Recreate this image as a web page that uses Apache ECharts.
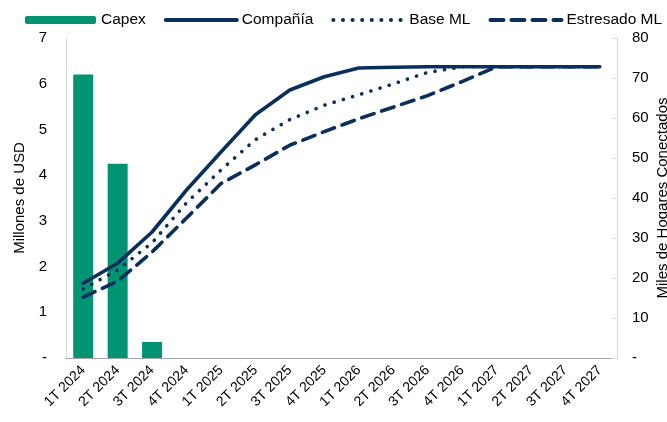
<!DOCTYPE html>
<html>
<head>
<meta charset="utf-8">
<script src="https://cdn.jsdelivr.net/npm/echarts@6/dist/echarts.min.js"></script>
<style>
  html, body { margin: 0; padding: 0; background: #fff; }
  #chart { width: 667px; height: 422px; }
</style>
</head>
<body>
<div id="chart"></div>
<script>
// Trimestres
const categories = ['1T 2024','2T 2024','3T 2024','4T 2024','1T 2025','2T 2025','3T 2025','4T 2025',
  '1T 2026','2T 2026','3T 2026','4T 2026','1T 2027','2T 2027','3T 2027','4T 2027'];

// Capex (millones de USD)
const capex = [6.2, 4.25, 0.35, null, null, null, null, null, null, null, null, null, null, null, null, null];

// Miles de hogares conectados por escenario
const compania   = [18.7, 23.7, 31.5, 42.0, 51.5, 60.8, 67.0, 70.3, 72.5, 72.7, 72.8, 72.8, 72.8, 72.8, 72.8, 72.8];
const baseML     = [17.3, 22.0, 28.8, 38.8, 47.0, 54.6, 59.6, 63.2, 65.8, 68.5, 71.4, 72.8, 72.8, 72.8, 72.8, 72.8];
const estresado  = [15.2, 19.2, 26.5, 35.0, 43.6, 48.3, 53.2, 56.6, 59.8, 62.7, 65.6, 69.1, 72.8, 72.8, 72.8, 72.8];

const GREEN = '#009473';
const NAVY = '#0B2F5C';
const FONT = 'Liberation Sans, Arial, sans-serif';

const chart = echarts.init(document.getElementById('chart'), null, { renderer: 'canvas' });

function lineSeries(name, data, type) {
  return {
    name, type: 'line', yAxisIndex: 1, data,
    symbol: 'none', smooth: false,
    lineStyle: { color: NAVY, width: 3.6, type, cap: 'round', join: 'round' },
    itemStyle: { color: NAVY },
    z: 3
  };
}

chart.setOption({
  animation: false,
  textStyle: { fontFamily: FONT },
  legend: {
    top: 12, left: 25, width: 650, padding: 0,
    itemWidth: 71, itemHeight: 8, itemGap: 18,
    itemStyle: { opacity: 0 },
    lineStyle: { width: 4, cap: 'round' },
    textStyle: { fontSize: 15.5, color: '#000', fontFamily: FONT },
    data: [
      { name: 'Capex', itemStyle: { opacity: 1 } },
      'Compañía', 'Base ML', 'Estresado ML'
    ]
  },
  grid: { left: 66, right: 50, top: 38, bottom: 64, outerBoundsMode: 'none', containLabel: false },
  xAxis: {
    type: 'category', data: categories,
    axisLine: { lineStyle: { color: '#a6a6a6', width: 1 } },
    axisTick: { show: false },
    axisLabel: { rotate: 45, fontSize: 14, color: '#000', fontFamily: FONT, margin: 10, interval: 0 }
  },
  yAxis: [
    {
      type: 'value', min: 0, max: 7, interval: 1,
      name: 'Millones de USD', nameLocation: 'middle', nameRotate: 90, nameGap: 39,
      nameTextStyle: { fontSize: 15, color: '#000', fontFamily: FONT },
      axisLine: { show: true, lineStyle: { color: '#d9d9d9' } },
      axisTick: { show: false },
      splitLine: { show: false },
      axisLabel: { fontSize: 15, color: '#000', fontFamily: FONT, margin: 19,
        formatter: v => v === 0 ? '-' : String(v) }
    },
    {
      type: 'value', min: 0, max: 80, interval: 10,
      name: 'Miles de Hogares Conectados', nameLocation: 'middle', nameRotate: 90, nameGap: 38,
      nameMoveOverlap: false,
      nameTextStyle: { fontSize: 15, color: '#000', fontFamily: FONT },
      axisLine: { show: true, lineStyle: { color: '#d9d9d9' } },
      axisTick: { show: true, inside: true, length: 5, lineStyle: { color: '#d9d9d9' } },
      splitLine: { show: false },
      axisLabel: { fontSize: 15, color: '#000', fontFamily: FONT, margin: 15,
        formatter: v => v === 0 ? '-' : String(v) }
    }
  ],
  series: [
    {
      name: 'Capex', type: 'bar', yAxisIndex: 0, data: capex,
      barWidth: 20, itemStyle: { color: GREEN }, z: 2
    },
    lineSeries('Compañía', compania, 'solid'),
    lineSeries('Base ML', baseML, [0.1, 9.5]),
    lineSeries('Estresado ML', estresado, [13, 8])
  ]
});
</script>
</body>
</html>
